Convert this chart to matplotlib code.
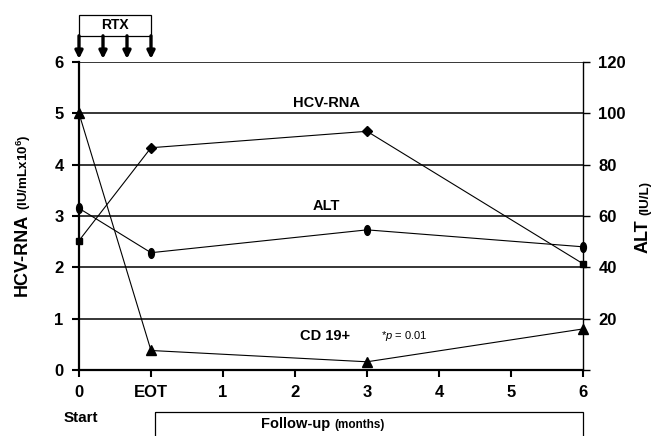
import numpy as np
import matplotlib
matplotlib.use("Agg")
import matplotlib.pyplot as plt
from matplotlib.path import Path
from matplotlib.patches import Rectangle
from matplotlib.transforms import Affine2D

plt.rcParams['font.family'] = ['Liberation Sans', 'DejaVu Sans']
plt.rcParams['mathtext.fontset'] = 'custom'
plt.rcParams['mathtext.rm'] = 'Liberation Sans'
plt.rcParams['mathtext.it'] = 'Liberation Sans:italic'
plt.rcParams['mathtext.bf'] = 'Liberation Sans:bold'

# Data (time points are positions on the category axis)
tick_labels = ['0', 'EOT', '1', '2', '3', '4', '5', '6']
time_pos = [0, 1, 4, 7]                 # 0, EOT, 3 and 6 months
hcv_rna = [2.52, 4.33, 4.65, 2.07]      # IU/mL x10^6
hcv_markers = ['s', 'D', 'D', 's']
alt = [63, 45.7, 54.6, 48]              # IU/L (right axis)
cd19 = [5.0, 0.38, 0.16, 0.8]
rtx_doses = [0, 1/3, 2/3, 1]            # infusions between start and EOT

# Ellipse marker for ALT
ellipse = Path.unit_circle().transformed(Affine2D().scale(0.6, 1.0))

fig = plt.figure(figsize=(6.6, 4.36), dpi=100)
ax = fig.add_axes([79/660, 66/436, 504/660, 308/436])

# Horizontal grid lines
for yv in range(1, 7):
    ax.axhline(yv, color='black', lw=1.1, zorder=1)

# HCV-RNA
ax.plot(time_pos, hcv_rna, color='black', lw=0.8, zorder=3)
for xv, yv, m in zip(time_pos, hcv_rna, hcv_markers):
    ax.plot(xv, yv, marker=m, color='black', ms=5 if m == 's' else 5.5,
            zorder=4, clip_on=False)

# CD 19+
ax.plot(time_pos, cd19, color='black', lw=0.8, marker='^', ms=7,
        zorder=3, clip_on=False)

ax.set_xlim(0, 7)
ax.set_ylim(0, 6)
ax.set_xticks(range(len(tick_labels)))
ax.set_xticklabels(tick_labels)
ax.set_yticks(range(0, 7))

for s in ['top', 'right']:
    ax.spines[s].set_visible(False)
ax.spines['left'].set_linewidth(1.6)
ax.spines['bottom'].set_linewidth(1.6)
ax.tick_params(axis='both', direction='out', length=5, width=1.5,
               labelsize=12, pad=6)
for lab in ax.get_xticklabels() + ax.get_yticklabels():
    lab.set_fontweight('bold')

# ALT on the right axis
ax2 = ax.twinx()
ax2.plot(time_pos, alt, color='black', lw=0.8, marker=ellipse, ms=7,
         zorder=3, clip_on=False)
ax2.set_ylim(0, 120)
ax2.set_yticks(range(0, 121, 20))
ax2.set_yticklabels([''] + [str(v) for v in range(20, 121, 20)])
for s in ['top', 'left', 'bottom']:
    ax2.spines[s].set_visible(False)
ax2.spines['right'].set_linewidth(1.0)
ax2.tick_params(axis='y', direction='out', length=5, width=1.0,
                labelsize=12, pad=6)
for lab in ax2.get_yticklabels():
    lab.set_fontweight('bold')

# In-plot labels
ax.text(3.44, 5.06, 'HCV-RNA', ha='center', va='bottom', fontsize=10.5,
        fontweight='bold')
ax.text(3.44, 3.06, 'ALT', ha='center', va='bottom', fontsize=10.5,
        fontweight='bold')
ax.text(3.42, 0.66, 'CD 19+', ha='center', va='center', fontsize=10.5,
        fontweight='bold')
ax.text(4.52, 0.66, r'*$p$ = 0.01', ha='center', va='center', fontsize=8)

# RTX box and arrows
ax.add_patch(Rectangle((0, 6.51), 1, 0.41, fill=False, lw=0.9,
                       edgecolor='black', clip_on=False))
ax.text(0.5, 6.715, 'RTX', ha='center', va='center', fontsize=10,
        fontweight='bold')
for d in rtx_doses:
    ax.annotate('', xy=(d, 6.06), xytext=(d, 6.51),
                arrowprops=dict(arrowstyle='-|>', lw=2.4, color='black',
                                mutation_scale=11, shrinkA=0, shrinkB=0),
                annotation_clip=False)

# Start / Follow-up
ax.text(0.03, -0.94, 'Start', ha='center', va='center', fontsize=11,
        fontweight='bold')
ax.add_patch(Rectangle((1.05, -0.82), 5.95, -1.5, fill=False, lw=0.9,
                       edgecolor='black', clip_on=False))
t1 = ax.text(3.55, -1.05, 'Follow-up ', ha='right', va='center',
             fontsize=10.5, fontweight='bold')
ax.annotate('(months)', xy=(1, 0), xycoords=t1, ha='left', va='bottom',
            fontsize=8.5, fontweight='bold')

# Axis titles
y1 = fig.text(22/660, 1 - 296/436, 'HCV-RNA', rotation=90, ha='center',
              va='bottom', fontsize=13, fontweight='bold')
plt.annotate(r'(IU/mLx10$^{\mathbf{6}}$)', xy=(0.62, 1), xycoords=y1,
             xytext=(0, 3), textcoords='offset points', rotation=90,
             ha='center', va='bottom', fontsize=9.6, fontweight='bold')
y2 = fig.text(643/660, 1 - 253/436, 'ALT', rotation=90, ha='center',
              va='bottom', fontsize=13, fontweight='bold')
plt.annotate('(IU/L)', xy=(0.62, 1), xycoords=y2,
             xytext=(0, 3), textcoords='offset points', rotation=90,
             ha='center', va='bottom', fontsize=9.6, fontweight='bold')

fig.savefig('out.png', dpi=100)
